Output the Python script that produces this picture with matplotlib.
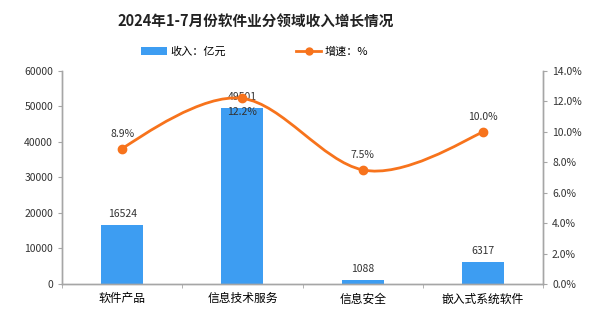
import matplotlib
matplotlib.use("Agg")
import matplotlib.pyplot as plt
from matplotlib.path import Path
from matplotlib.patches import PathPatch, Patch
from matplotlib.lines import Line2D
import numpy as np

plt.rcParams['font.family'] = ['Noto Sans CJK SC', 'DejaVu Sans']

categories = ["软件产品", "信息技术服务", "信息安全", "嵌入式系统软件"]
revenue = [16524, 49501, 1088, 6317]
growth = [8.9, 12.2, 7.5, 10.0]
left_ticks = [0, 10000, 20000, 30000, 40000, 50000, 60000]
right_ticks = [0, 2, 4, 6, 8, 10, 12, 14]

BLUE = "#3d9df2"
ORANGE = "#f7731c"
GREY = "#a6a6a6"

fig = plt.figure(figsize=(6.01, 3.13), dpi=100)
ax = fig.add_axes([0.1032, 0.0927, 0.8003, 0.6805])
ax2 = ax.twinx()

x = np.arange(len(categories))
ax.bar(x, revenue, width=0.35, color=BLUE, zorder=2)
ax.set_xlim(-0.5, len(categories) - 0.5)
ax.set_ylim(0, 60000)
ax.set_yticks(left_ticks)
ax.set_yticklabels([str(t) for t in left_ticks])
ax.set_xticks(x)
ax.set_xticklabels(categories)
ax.set_xticks(np.arange(len(categories) + 1) - 0.5, minor=True)
ax.tick_params(axis='x', which='major', length=0, pad=6, labelsize=8.5)
ax.tick_params(axis='x', which='minor', length=3, color=GREY, direction='out')
ax.tick_params(axis='y', length=3, color=GREY, labelsize=7.5, colors='#333333')

for v, xi in zip(revenue, x):
    ax.text(xi, v + 1700, str(v), ha='center', va='bottom', fontsize=7.5, color='#333333')

ax2.set_ylim(0, 14)
ax2.set_yticks(right_ticks)
ax2.set_yticklabels([f"{t:.1f}%" for t in right_ticks])
ax2.tick_params(axis='y', length=3, color=GREY, labelsize=7.5, colors='#333333')

for a in (ax, ax2):
    a.spines['top'].set_visible(False)
    for s in ('left', 'right', 'bottom'):
        a.spines[s].set_color(GREY)
        a.spines[s].set_linewidth(1)

# smooth curve through growth points (Catmull-Rom -> cubic Bezier)
px = list(x.astype(float))
py = list(growth)
n = len(px)
tension = 0.5
verts = [(px[0], py[0])]
codes = [Path.MOVETO]
for i in range(n - 1):
    x0, y0 = (px[i - 1], py[i - 1]) if i > 0 else (px[i], py[i])
    x1, y1 = px[i], py[i]
    x2, y2 = px[i + 1], py[i + 1]
    x3, y3 = (px[i + 2], py[i + 2]) if i + 2 < n else (px[i + 1], py[i + 1])
    c1 = (x1 + (x2 - x0) * tension / 3, y1 + (y2 - y0) * tension / 3 * 1.5)
    c2 = (x2 - (x3 - x1) * tension / 3, y2 - (y3 - y1) * tension / 3 * 1.5)
    verts += [c1, c2, (x2, y2)]
    codes += [Path.CURVE4] * 3
curve = PathPatch(Path(verts, codes), facecolor='none', edgecolor=ORANGE, lw=2, zorder=3)
ax2.add_patch(curve)
ax2.plot(x, growth, 'o', color=ORANGE, markersize=6, zorder=4)

offsets = [1.0, -1.0, 1.0, 1.0]
for xi, g, off in zip(x, growth, offsets):
    ax2.text(xi, g + (0.65 if off > 0 else -0.55), f"{g:.1f}%", ha='center',
             va='bottom' if off > 0 else 'top', fontsize=7.5, color='#333333')

fig.text(0.426, 0.935, "2024年1-7月份软件业分领域收入增长情况", ha='center', va='center',
         fontsize=10.5, fontweight='bold', color='#222222')

handles = [Patch(facecolor=BLUE, edgecolor='none'),
           Line2D([0], [0], color=ORANGE, lw=2, marker='o', markersize=5)]
fig.legend(handles, ["收入：亿元", "增速：%"], loc='center', bbox_to_anchor=(0.424, 0.835),
           ncol=2, frameon=False, fontsize=8, columnspacing=6.3, handlelength=2.3,
           handleheight=0.8, handletextpad=0.3)

fig.savefig("out.png", dpi=100)
